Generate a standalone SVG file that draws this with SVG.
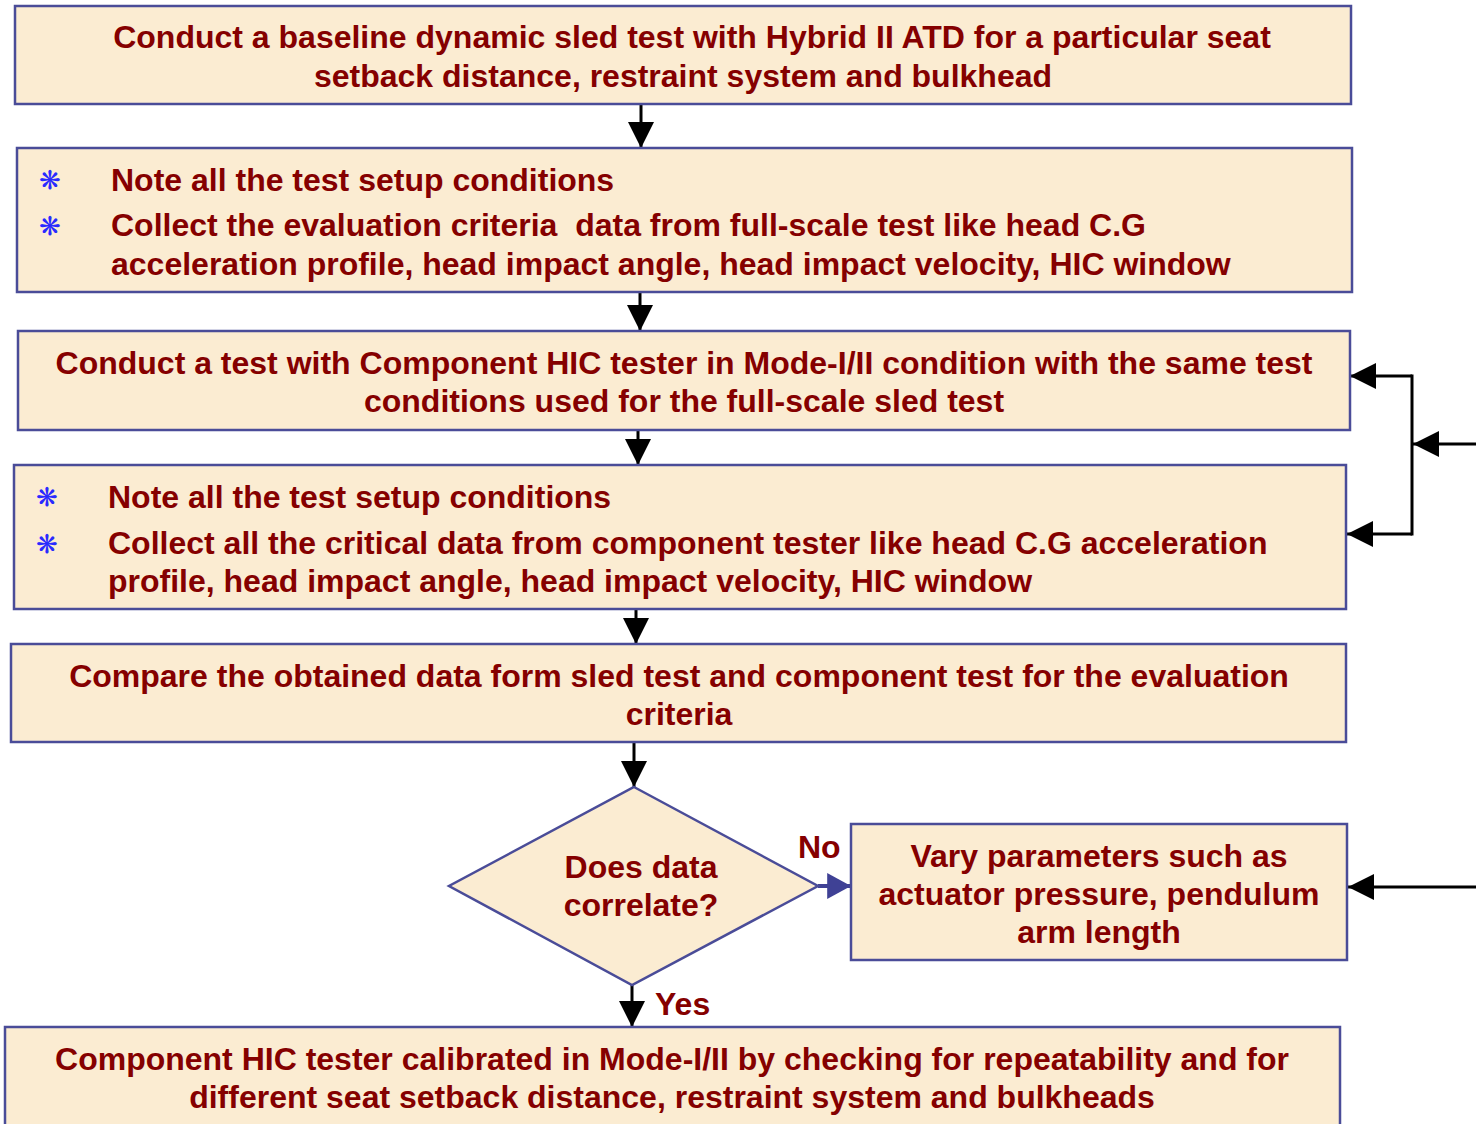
<svg xmlns="http://www.w3.org/2000/svg" width="1476" height="1124" viewBox="0 0 1476 1124">
<defs>
<style>
.box{fill:#fbecd2;stroke:#4a4c98;stroke-width:2.5}
.t{font-family:"Liberation Sans",Arial,sans-serif;font-weight:bold;font-size:32px;fill:#850000}
.c{text-anchor:middle}
.b{font-family:"DejaVu Sans",sans-serif;font-size:26px;fill:#2a2aff;text-anchor:middle}
.ln{stroke:#000;stroke-width:3;fill:none}
</style>
<marker id="ah" markerUnits="userSpaceOnUse" markerWidth="26" markerHeight="26" refX="24" refY="12" orient="auto" viewBox="0 0 24 24">
<path d="M0,0 L24,12 L0,24 z" fill="#000"/>
</marker>
<marker id="ahb" markerUnits="userSpaceOnUse" markerWidth="24" markerHeight="26" refX="22" refY="12" orient="auto" viewBox="0 0 22 24">
<path d="M0,0 L22,12 L0,24 z" fill="#3f4195"/>
</marker>
</defs>
<rect width="1476" height="1124" fill="#fff"/>
<g id="connectors">
<path class="ln" d="M641,104 V148" marker-end="url(#ah)"/>
<path class="ln" d="M640,292 V331" marker-end="url(#ah)"/>
<path class="ln" d="M638,430 V465" marker-end="url(#ah)"/>
<path class="ln" d="M636,609 V644" marker-end="url(#ah)"/>
<path class="ln" d="M634,742 V787" marker-end="url(#ah)"/>
<path class="ln" d="M632,985 V1027" marker-end="url(#ah)"/>
<path d="M818,886 H851" stroke="#3f4195" stroke-width="4" fill="none" marker-end="url(#ahb)"/>
<path class="ln" d="M1476,444 H1413" marker-end="url(#ah)"/>
<path class="ln" d="M1412,374.5 V535.5"/>
<path class="ln" d="M1412,376 H1350" marker-end="url(#ah)"/>
<path class="ln" d="M1412,534 H1347" marker-end="url(#ah)"/>
<path class="ln" d="M1476,887 H1348" marker-end="url(#ah)"/>
<text class="t" x="798" y="858">No</text>
<text class="t" x="655" y="1015">Yes</text>
</g>
<g id="n1">
<rect class="box" x="15" y="6" width="1336" height="98"/>
<text class="t c" x="692" y="48">Conduct a baseline dynamic sled test with Hybrid II ATD for a particular seat</text>
<text class="t c" x="683" y="87">setback distance, restraint system and bulkhead</text>
</g>
<g id="n2">
<rect class="box" x="17" y="148" width="1335" height="144"/>
<text class="b" x="50" y="189">❋</text>
<text class="b" x="50" y="235">❋</text>
<text class="t" x="111" y="191">Note all the test setup conditions</text>
<text class="t" x="111" y="236" xml:space="preserve">Collect the evaluation criteria  data from full-scale test like head C.G</text>
<text class="t" x="111" y="275">acceleration profile, head impact angle, head impact velocity, HIC window</text>
</g>
<g id="n3">
<rect class="box" x="18" y="331" width="1332" height="99"/>
<text class="t c" x="684" y="374">Conduct a test with Component HIC tester in Mode-I/II condition with the same test</text>
<text class="t c" x="684" y="412">conditions used for the full-scale sled test</text>
</g>
<g id="n4">
<rect class="box" x="14" y="465" width="1332" height="144"/>
<text class="b" x="47" y="506">❋</text>
<text class="b" x="47" y="553">❋</text>
<text class="t" x="108" y="508">Note all the test setup conditions</text>
<text class="t" x="108" y="554">Collect all the critical data from component tester like head C.G acceleration</text>
<text class="t" x="108" y="592">profile, head impact angle, head impact velocity, HIC window</text>
</g>
<g id="n5">
<rect class="box" x="11" y="644" width="1335" height="98"/>
<text class="t c" x="679" y="687">Compare the obtained data form sled test and component test for the evaluation</text>
<text class="t c" x="679" y="725">criteria</text>
</g>
<g id="n6">
<path class="box" d="M634,787 L818,886 L632,985 L449,886 Z"/>
<text class="t c" x="641" y="878">Does data</text>
<text class="t c" x="641" y="916">correlate?</text>
</g>
<g id="n7">
<rect class="box" x="851" y="824" width="496" height="136"/>
<text class="t c" x="1099" y="867">Vary parameters such as</text>
<text class="t c" x="1099" y="905">actuator pressure, pendulum</text>
<text class="t c" x="1099" y="943">arm length</text>
</g>
<g id="n8">
<rect class="box" x="5" y="1027" width="1335" height="110"/>
<text class="t c" x="672" y="1070">Component HIC tester calibrated in Mode-I/II by checking for repeatability and for</text>
<text class="t c" x="672" y="1108">different seat setback distance, restraint system and bulkheads</text>
</g>
</svg>
